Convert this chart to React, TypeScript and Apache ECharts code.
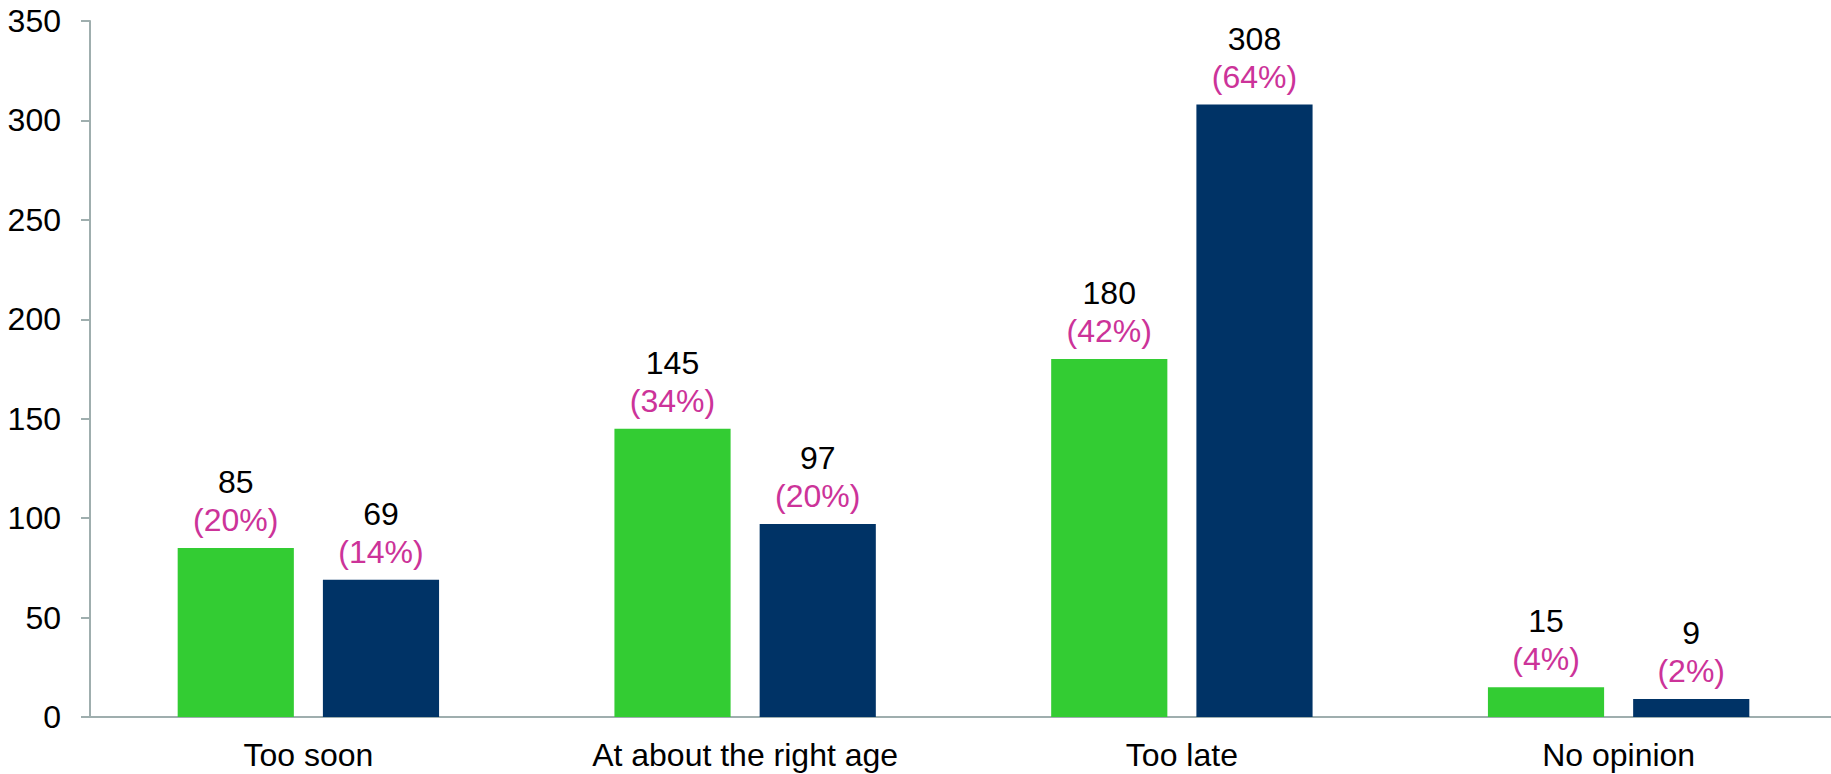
import React, { useEffect, useRef } from "react";
import * as echarts from "echarts";

const categories = ["Too soon", "At about the right age", "Too late", "No opinion"];
const seriesA = [85, 145, 180, 15];
const seriesB = [69, 97, 308, 9];
const pctA = ["20%", "34%", "42%", "4%"];
const pctB = ["14%", "20%", "64%", "2%"];
const yTicks = { min: 0, max: 350, interval: 50 };

const FONT = "'Liberation Sans', Arial, sans-serif";
const AXIS_COLOR = "#9FAEAE";

export default function App() {
  const ref = useRef<HTMLDivElement>(null);
  useEffect(() => {
    document.body.style.margin = "0";
    document.body.style.overflow = "hidden";
    if (!ref.current) return;
    const chart = echarts.init(ref.current, undefined, { renderer: "svg" });
    const mkLabel = (pcts: string[]) => ({
      show: true,
      position: "top",
      distance: 9,
      formatter: (p: any) => `{a|${p.value}}\n{b|(${pcts[p.dataIndex]})}`,
      rich: {
        a: { color: "#000000", fontSize: 32, lineHeight: 38, fontFamily: FONT },
        b: { color: "#CC3399", fontSize: 32, lineHeight: 38, fontFamily: FONT },
      },
    });
    chart.setOption({
      animation: false,
      backgroundColor: "#ffffff",
      grid: { left: 90, right: 0, top: 21, bottom: 57, containLabel: false },
      xAxis: {
        type: "category",
        data: categories,
        axisLine: { lineStyle: { color: AXIS_COLOR, width: 2 } },
        axisTick: { show: false },
        axisLabel: { color: "#000", fontSize: 32, fontFamily: FONT, margin: 22 },
      },
      yAxis: {
        type: "value",
        min: yTicks.min,
        max: yTicks.max,
        interval: yTicks.interval,
        splitLine: { show: false },
        axisLine: { show: true, lineStyle: { color: AXIS_COLOR, width: 2 } },
        axisTick: { show: true, length: 9, lineStyle: { color: AXIS_COLOR, width: 2 } },
        axisLabel: { color: "#000", fontSize: 32, fontFamily: FONT, margin: 29 },
      },
      series: [
        {
          type: "bar",
          data: seriesA,
          barWidth: "26.6%",
          barGap: "25%",
          itemStyle: { color: "#33CC33" },
          label: mkLabel(pctA),
        },
        {
          type: "bar",
          data: seriesB,
          barWidth: "26.6%",
          barGap: "25%",
          itemStyle: { color: "#003366" },
          label: mkLabel(pctB),
        },
      ],
    });
    return () => chart.dispose();
  }, []);
  return (
    <div style={{ width: 1831, height: 774, overflow: "hidden" }}>
      <div ref={ref} style={{ width: 1837, height: 774 }} />
    </div>
  );
}
